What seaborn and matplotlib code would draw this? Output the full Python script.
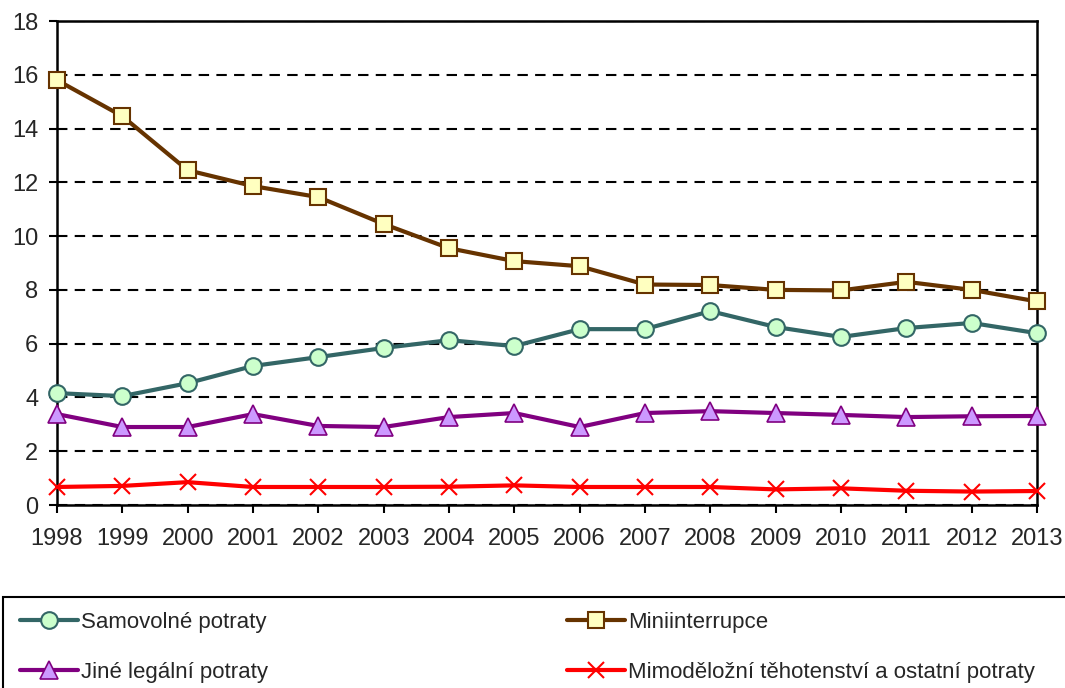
import pandas as pd
import matplotlib.pyplot as plt
import seaborn as sns
from matplotlib.patches import Rectangle

# data
roky = list(range(1998, 2014))
samovolne = [4.16, 4.05, 4.53, 5.17, 5.50, 5.84, 6.13, 5.91, 6.54, 6.54, 7.21, 6.62, 6.25, 6.58, 6.77, 6.39]
miniinterrupce = [15.8, 14.46, 12.45, 11.86, 11.45, 10.45, 9.55, 9.07, 8.88, 8.2, 8.18, 8.0, 7.98, 8.3, 8.0, 7.57]
jine_legalni = [3.38, 2.9, 2.9, 3.38, 2.94, 2.9, 3.27, 3.42, 2.9, 3.42, 3.49, 3.42, 3.35, 3.27, 3.3, 3.31]
mimodelozni = [0.67, 0.71, 0.85, 0.67, 0.67, 0.67, 0.68, 0.73, 0.67, 0.67, 0.67, 0.58, 0.62, 0.53, 0.50, 0.52]

df = pd.DataFrame({
    "Rok": roky,
    "Samovolné potraty": samovolne,
    "Miniinterrupce": miniinterrupce,
    "Jiné legální potraty": jine_legalni,
    "Mimoděložní těhotenství a ostatní potraty": mimodelozni,
})

sns.set_style("white")
plt.rcParams['font.family'] = ['Liberation Sans', 'DejaVu Sans']

fig = plt.figure(figsize=(10.65, 6.88), dpi=100)
ax = fig.add_axes([57 / 1065, 1 - 505 / 688, 980 / 1065, 484 / 688])

styly = {
    "Samovolné potraty": dict(color="#336666", marker="o", markerfacecolor="#CCFFCC",
                              markeredgecolor="#336666", markersize=12, markeredgewidth=1.5),
    "Miniinterrupce": dict(color="#663300", marker="s", markerfacecolor="#FFFFC0",
                           markeredgecolor="#663300", markersize=11.5, markeredgewidth=1.5),
    "Jiné legální potraty": dict(color="#800080", marker="^", markerfacecolor="#CC99FF",
                                 markeredgecolor="#800080", markersize=12.5, markeredgewidth=1.2),
    "Mimoděložní těhotenství a ostatní potraty": dict(color="#FF0000", marker="x",
                                                      markeredgecolor="#FF0000", markersize=12,
                                                      markeredgewidth=1.5),
}

for nazev, st in styly.items():
    sns.lineplot(data=df, x="Rok", y=nazev, ax=ax, linewidth=3, label=nazev, zorder=3, **st)

ax.set_xlim(1998, 2013)
ax.set_ylim(0, 18)
ax.set_xticks(roky)
ax.set_yticks(range(0, 19, 2))
ax.set_xlabel("")
ax.set_ylabel("")
ax.tick_params(axis="both", labelsize=17, length=5.5, width=1.5, color="black", direction="out",
               left=True, bottom=True)
ax.tick_params(axis="x", pad=11)
ax.tick_params(axis="y", pad=8)
ax.yaxis.grid(True, linestyle=(0, (5, 3.5)), color="black", linewidth=1.5)
for s in ax.spines.values():
    s.set_color("black")
    s.set_linewidth(1.8)
    s.set_visible(True)
for l in ax.lines:
    l.set_clip_on(False)

handles, labels = ax.get_legend_handles_labels()
ax.get_legend().remove()

# ramecek legendy, oriznuty okrajem obrazku jako v originalu
fig.patches.append(Rectangle((3 / 1065, -0.05), 1.1, (688 - 597) / 688 + 0.05,
                             transform=fig.transFigure, fill=False, edgecolor="black", linewidth=1.5))

leg_kw = dict(frameon=False, fontsize=16, handlelength=2.6, handletextpad=0.15,
              labelspacing=1.3, borderpad=0, borderaxespad=0)
leg1 = fig.legend([handles[0], handles[2]], [labels[0], labels[2]], loc="upper left",
                  bbox_to_anchor=(20 / 1065, 1 - 612 / 688), **leg_kw)
leg2 = fig.legend([handles[1], handles[3]], [labels[1], labels[3]], loc="upper left",
                  bbox_to_anchor=(567 / 1065, 1 - 612 / 688), **leg_kw)

plt.savefig("out.png", dpi=100)
